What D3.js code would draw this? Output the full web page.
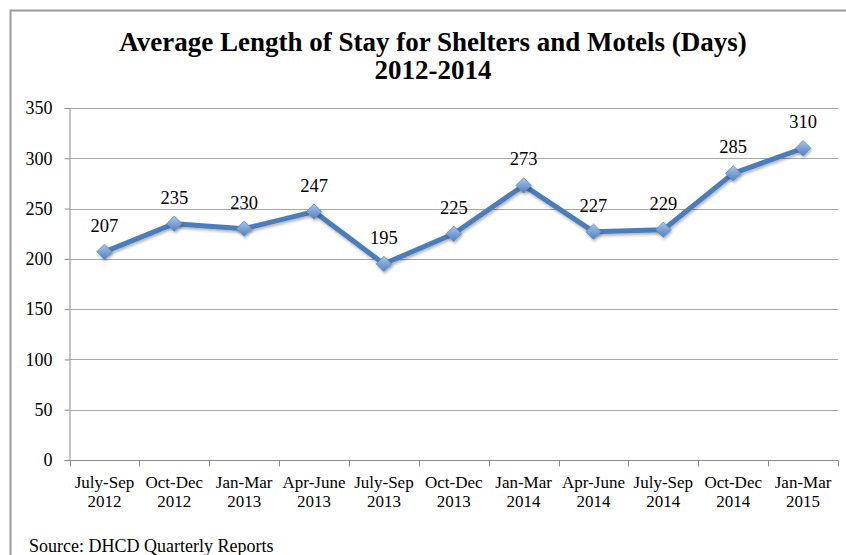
<!DOCTYPE html>
<html lang="en">
<head>
<meta charset="UTF-8">
<title>Average Length of Stay</title>
<script src="https://d3js.org/d3.v7.min.js"></script>
<style>
    body { margin: 0; background: #fff; }
    svg text { font-family: "Liberation Serif", "DejaVu Serif", serif; fill: #000; }
</style>
</head>
<body>
<svg id="chart" width="846" height="555"></svg>
<script>
    // data
    const quarters = ["July-Sep", "Oct-Dec", "Jan-Mar", "Apr-June", "July-Sep", "Oct-Dec",
                      "Jan-Mar", "Apr-June", "July-Sep", "Oct-Dec", "Jan-Mar"];
    const years = ["2012", "2012", "2013", "2013", "2013", "2013", "2014", "2014", "2014", "2014", "2015"];
    const days = [207, 235, 230, 247, 195, 225, 273, 227, 229, 285, 310];
    const yTicks = [0, 50, 100, 150, 200, 250, 300, 350];

    const svg = d3.select("#chart");
    const plotLeft = 69.5, plotRight = 838, plotTop = 108, plotBottom = 460;

    // outer frame (right/bottom edges sit outside the window)
    svg.append("rect")
        .attr("x", 10.5).attr("y", 10.5)
        .attr("width", 860).attr("height", 580)
        .attr("fill", "none").attr("stroke", "#9a9a9a").attr("stroke-width", 2);

    // title
    svg.append("text").attr("x", 433).attr("y", 51)
        .attr("text-anchor", "middle").attr("font-size", 27).attr("font-weight", "bold")
        .text("Average Length of Stay for Shelters and Motels (Days)");
    svg.append("text").attr("x", 433).attr("y", 79)
        .attr("text-anchor", "middle").attr("font-size", 27).attr("font-weight", "bold")
        .text("2012-2014");

    const keys = d3.range(days.length);
    const x = d3.scaleBand().domain(keys).range([plotLeft, plotRight]);
    const y = d3.scaleLinear().domain([0, 350]).range([plotBottom, plotTop]);

    // gridlines
    svg.append("g").selectAll("line")
        .data(yTicks.filter(d => d > 0))
        .join("line")
        .attr("x1", plotLeft).attr("x2", plotRight)
        .attr("y1", d => Math.round(y(d)) + 0.5).attr("y2", d => Math.round(y(d)) + 0.5)
        .attr("stroke", "#a6a6a6");

    // y axis
    const yAxis = svg.append("g")
        .attr("transform", `translate(${plotLeft},0)`)
        .call(d3.axisLeft(y).tickValues(yTicks).tickSize(5).tickPadding(12));
    yAxis.attr("font-family", null);
    yAxis.select(".domain").attr("stroke", "#8c8c8c");
    yAxis.selectAll(".tick line").attr("stroke", "#8c8c8c");
    yAxis.selectAll(".tick text").attr("font-size", 18);

    // x axis, ticks on band boundaries
    const xAxisG = svg.append("g").attr("transform", `translate(0,${plotBottom + 0.5})`);
    xAxisG.append("line").attr("x1", plotLeft).attr("x2", plotRight).attr("stroke", "#8c8c8c");
    xAxisG.selectAll(".tk")
        .data(d3.range(days.length + 1))
        .join("line")
        .attr("class", "tk")
        .attr("x1", i => Math.round(plotLeft + i * x.step()) + 0.5)
        .attr("x2", i => Math.round(plotLeft + i * x.step()) + 0.5)
        .attr("y1", 0).attr("y2", 6)
        .attr("stroke", "#8c8c8c");

    const labels = xAxisG.selectAll(".lbl")
        .data(keys)
        .join("text")
        .attr("class", "lbl")
        .attr("text-anchor", "middle")
        .attr("font-size", 17);
    labels.append("tspan")
        .attr("x", i => x(i) + x.bandwidth() / 2).attr("y", 27)
        .text(i => quarters[i]);
    labels.append("tspan")
        .attr("x", i => x(i) + x.bandwidth() / 2).attr("y", 46)
        .text(i => years[i]);

    // marker gradient
    const defs = svg.append("defs");
    const grad = defs.append("linearGradient").attr("id", "mk")
        .attr("x1", "0").attr("y1", "0").attr("x2", "0").attr("y2", "1");
    grad.append("stop").attr("offset", "0%").attr("stop-color", "#a9c5ee");
    grad.append("stop").attr("offset", "100%").attr("stop-color", "#4f81bd");
    const shadow = defs.append("filter").attr("id", "sh").attr("x", "-50%").attr("y", "-50%")
        .attr("width", "200%").attr("height", "200%");
    shadow.append("feDropShadow").attr("dx", 1).attr("dy", 2).attr("stdDeviation", 1.5)
        .attr("flood-color", "#000").attr("flood-opacity", 0.3);

    const cx = i => x(i) + x.bandwidth() / 2;

    // line
    svg.append("path")
        .datum(keys)
        .attr("fill", "none")
        .attr("stroke", "#4a7ebb")
        .attr("stroke-width", 5)
        .attr("stroke-linejoin", "round")
        .attr("filter", "url(#sh)")
        .attr("d", d3.line().x(cx).y(i => y(days[i])));

    // diamond markers
    svg.append("g").selectAll("path")
        .data(keys)
        .join("path")
        .attr("transform", i => `translate(${cx(i)},${y(days[i])})`)
        .attr("d", d3.symbol(d3.symbolDiamond2, 150)())
        .attr("fill", "url(#mk)")
        .attr("stroke", "#5b8bc9").attr("stroke-width", 0.8)
        .attr("filter", "url(#sh)");

    // value labels
    svg.append("g").selectAll("text")
        .data(keys)
        .join("text")
        .attr("x", cx)
        .attr("y", i => y(days[i]) - 20)
        .attr("text-anchor", "middle")
        .attr("font-size", 18.5)
        .text(i => days[i]);

    // source note
    svg.append("text").attr("x", 29).attr("y", 552)
        .attr("font-size", 18)
        .text("Source: DHCD Quarterly Reports");
</script>
</body>
</html>
